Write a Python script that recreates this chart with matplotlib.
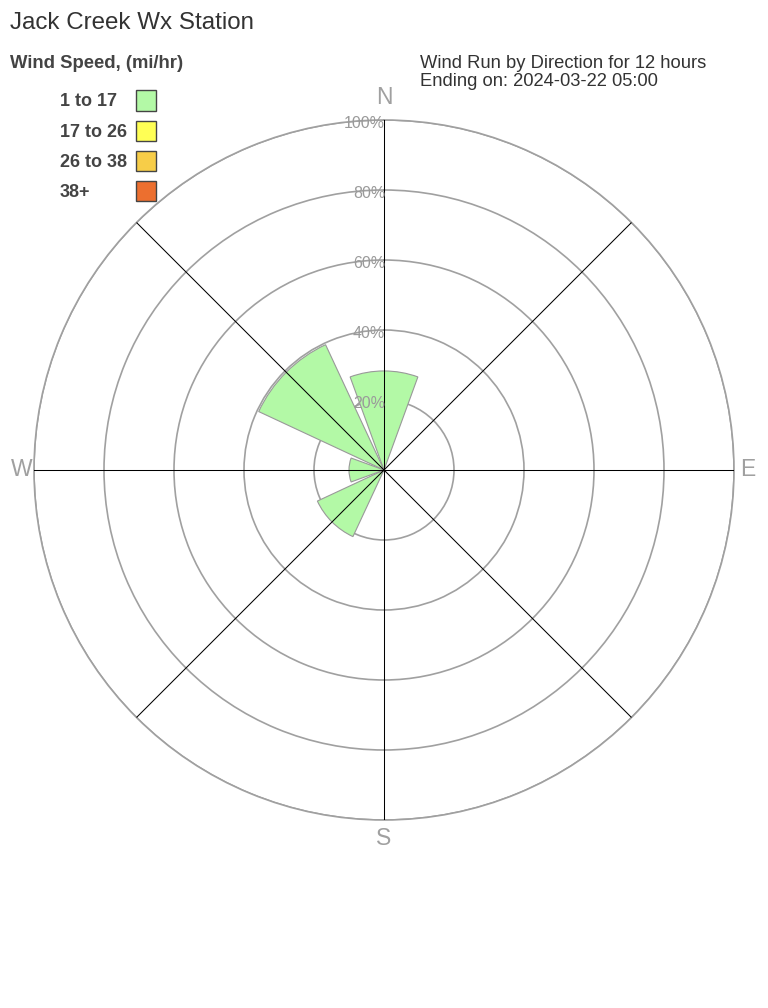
import numpy as np
import matplotlib
matplotlib.use("Agg")
import matplotlib.pyplot as plt
from matplotlib.patches import Rectangle
from matplotlib.transforms import offset_copy

plt.rcParams['font.family'] = ['Liberation Sans', 'DejaVu Sans']

# wind run by direction (percent of total), speed class 1 to 17 mi/hr
directions = ['N', 'NE', 'E', 'SE', 'S', 'SW', 'W', 'NW']
dir_angles = [0, 45, 90, 135, 180, 225, 270, 315]
pct_1_17 = [28.3, 0, 0, 0, 0, 21.0, 10.0, 39.5]

speed_labels = ['1 to 17', '17 to 26', '26 to 38', '38+']
speed_colors = ['#b3f9a6', '#ffff55', '#f7cd48', '#ec6f2f']

ring_values = [20, 40, 60, 80, 100]
ring_labels = ['20%', '40%', '60%', '80%', '100%']
compass_angles = [0, 90, 180, 270]
compass_labels = ['N', 'E', 'S', 'W']

fig = plt.figure(figsize=(7.68, 10.08), dpi=100)

# polar axes: centre (384, 470) px, radius 350 px
ax = fig.add_axes([34 / 768, 188 / 1008, 700 / 768, 700 / 1008], projection='polar')
ax.set_theta_zero_location('N')
ax.set_theta_direction(-1)
ax.set_ylim(0, 100)

theta = np.radians(dir_angles)
ax.bar(theta, pct_1_17, width=np.radians(40), bottom=0,
       color=speed_colors[0], edgecolor='#999999', linewidth=0.8, zorder=2)

# spokes (black, over the bars) and rings (gray, under the bars)
ax.set_thetagrids(dir_angles, [''] * len(dir_angles))
ax.xaxis.grid(True, color='black', linewidth=0.75)
ax.xaxis.set_zorder(3)
ax.set_rgrids(ring_values, labels=[''] * len(ring_values))
ax.yaxis.grid(True, color='#a0a0a0', linewidth=1.2)
ax.yaxis.set_zorder(1)
ax.spines['polar'].set_color('#a0a0a0')
ax.spines['polar'].set_linewidth(1.2)

# compass letters just outside the outer ring
label_r = [106.3, 104.0, 105.4, 103.5]
for ang, lab, r in zip(compass_angles, compass_labels, label_r):
    ax.text(np.radians(ang), r, lab, ha='center', va='center',
            fontsize=16.5, color='#a0a0a0')

lab_tr = offset_copy(ax.transData, fig=fig, x=1, y=-3.5, units='dots')
for r, lab in zip(ring_values, ring_labels):
    ax.text(0, r, lab, ha='right', va='center', fontsize=11.5,
            color='#9a9a9a', zorder=4, transform=lab_tr)

# titles
fig.text(10 / 768, 1 - 23 / 1008, 'Jack Creek Wx Station', fontsize=17.4,
         color='#333333', va='center', ha='left')
fig.text(10 / 768, 1 - 63 / 1008, 'Wind Speed, (mi/hr)', fontsize=13.3,
         fontweight='bold', color='#444444', va='center', ha='left')
fig.text(420 / 768, 1 - 63 / 1008, 'Wind Run by Direction for 12 hours',
         fontsize=13.2, color='#333333', va='center', ha='left')
fig.text(420 / 768, 1 - 82 / 1008, 'Ending on: 2024-03-22 05:00',
         fontsize=13.2, color='#333333', va='center', ha='left')

# speed legend
for i, (lab, col) in enumerate(zip(speed_labels, speed_colors)):
    yc = 100.5 + 30.1 * i
    fig.text(60 / 768, 1 - (yc + 1.5) / 1008, lab, fontsize=13, fontweight='bold',
             color='#444444', va='center', ha='left')
    fig.add_artist(Rectangle((136 / 768, 1 - (yc + 10) / 1008), 20 / 768, 20 / 1008,
                             transform=fig.transFigure, facecolor=col,
                             edgecolor='#444444', linewidth=1))

fig.savefig('out.png', dpi=100)
